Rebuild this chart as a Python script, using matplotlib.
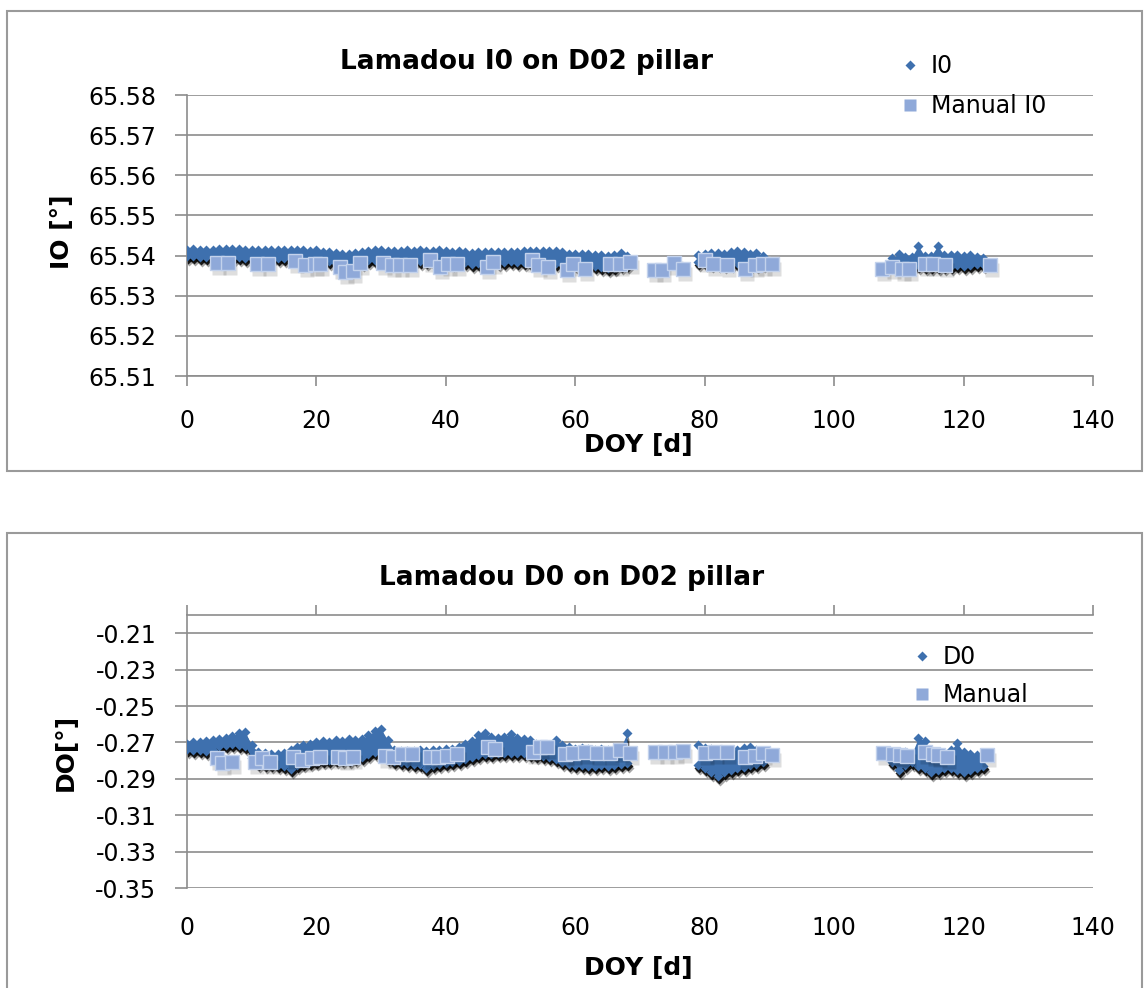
import matplotlib
matplotlib.use("Agg")
import matplotlib.pyplot as plt
from matplotlib import patches
from matplotlib import transforms
from matplotlib.lines import Line2D
import numpy as np

W, H = 1146, 988

# sampling days of the continuous Lamadou readings
days = list(range(0, 69)) + list(range(79, 90)) + list(range(109, 124))

# I0: daily upper / lower reading [deg]
i0_hi = [65.5414, 65.5416, 65.5413, 65.5415, 65.5414, 65.5416, 65.5417, 65.5416, 65.5417, 65.5415,
         65.5413, 65.5414, 65.5415, 65.5414, 65.5415, 65.5413, 65.5414, 65.5413, 65.5414, 65.5412,
         65.5413, 65.5410, 65.5408, 65.5406, 65.5404, 65.5405, 65.5407, 65.5409, 65.5412, 65.5413,
         65.5414, 65.5412, 65.5411, 65.5412, 65.5413, 65.5412, 65.5413, 65.5411, 65.5412, 65.5413,
         65.5412, 65.5410, 65.5411, 65.5408, 65.5406, 65.5408, 65.5409, 65.5410, 65.5408, 65.5409,
         65.5410, 65.5409, 65.5411, 65.5412, 65.5411, 65.5412, 65.5411, 65.5412, 65.5409, 65.5405,
         65.5404, 65.5403, 65.5404, 65.5402, 65.5401, 65.5400, 65.5401, 65.5406, 65.5400,
         65.5402, 65.5405, 65.5407, 65.5406, 65.5405, 65.5408, 65.5411, 65.5408, 65.5405, 65.5406, 65.5400,
         65.5394, 65.5404, 65.5396, 65.5397, 65.5424, 65.5399, 65.5400, 65.5424, 65.5401, 65.5402,
         65.5401, 65.5400, 65.5401, 65.5397, 65.5394]
i0_lo = [65.5398, 65.5398, 65.5397, 65.5396, 65.5396, 65.5397, 65.5396, 65.5395, 65.5396, 65.5395,
         65.5394, 65.5393, 65.5394, 65.5395, 65.5394, 65.5393, 65.5394, 65.5392, 65.5391, 65.5391,
         65.5390, 65.5389, 65.5386, 65.5382, 65.5378, 65.5376, 65.5380, 65.5384, 65.5388, 65.5390,
         65.5391, 65.5390, 65.5389, 65.5388, 65.5389, 65.5388, 65.5387, 65.5386, 65.5387, 65.5388,
         65.5387, 65.5385, 65.5386, 65.5383, 65.5378, 65.5382, 65.5385, 65.5386, 65.5385, 65.5384,
         65.5386, 65.5385, 65.5384, 65.5385, 65.5383, 65.5382, 65.5381, 65.5382, 65.5380, 65.5378,
         65.5378, 65.5376, 65.5377, 65.5375, 65.5372, 65.5370, 65.5372, 65.5376, 65.5378,
         65.5385, 65.5383, 65.5382, 65.5381, 65.5380, 65.5381, 65.5382, 65.5381, 65.5379, 65.5380, 65.5382,
         65.5378, 65.5377, 65.5376, 65.5375, 65.5376, 65.5374, 65.5375, 65.5374, 65.5375, 65.5374,
         65.5376, 65.5375, 65.5376, 65.5378, 65.5380]

# manual I0 measurements
man_i0_days = [4.6, 6.4, 10.8, 12.5, 16.7, 18.2, 19.8, 20.6, 23.6, 24.4,
               25.7, 26.7, 30.3, 31.7, 32.9, 34.5, 37.6, 39.1, 40.3, 41.7,
               46.4, 47.3, 53.3, 54.3, 55.8, 58.7, 59.7, 61.5, 65.4, 66.9,
               68.5, 72.1, 73.4, 75.2, 76.7, 80.1, 81.3, 83.4, 86.2, 87.8,
               89.0, 90.4, 107.4, 109.0, 110.5, 111.5, 114.1, 115.3, 117.2, 124.1]
man_i0 = [65.5381, 65.5381, 65.5379, 65.5379, 65.5386, 65.5377, 65.5379, 65.5379, 65.5372, 65.5359,
          65.5362, 65.5381, 65.5381, 65.5376, 65.5376, 65.5376, 65.5389, 65.5372, 65.5379, 65.5379,
          65.5372, 65.5384, 65.5389, 65.5376, 65.5372, 65.5364, 65.5379, 65.5367, 65.5379, 65.5379,
          65.5384, 65.5364, 65.5364, 65.5381, 65.5367, 65.5389, 65.5379, 65.5376, 65.5367, 65.5376,
          65.5379, 65.5379, 65.5367, 65.5372, 65.5367, 65.5367, 65.5379, 65.5379, 65.5376, 65.5376]

# D0: daily upper / lower reading [deg]
d0_hi = [-0.2709, -0.2698, -0.2698, -0.2693, -0.2687, -0.2682, -0.2676, -0.2665, -0.2649, -0.2644,
         -0.2715, -0.2753, -0.2759, -0.2764, -0.2764, -0.2759, -0.2742, -0.2726, -0.2715, -0.2709,
         -0.2698, -0.2693, -0.2698, -0.2687, -0.2693, -0.2682, -0.2687, -0.2682, -0.2660, -0.2638,
         -0.2627, -0.2687, -0.2742, -0.2748, -0.2748, -0.2748, -0.2742, -0.2748, -0.2742, -0.2742,
         -0.2737, -0.2737, -0.2726, -0.2709, -0.2693, -0.2660, -0.2649, -0.2671, -0.2676, -0.2671,
         -0.2655, -0.2676, -0.2682, -0.2687, -0.2709, -0.2720, -0.2720, -0.2687, -0.2715, -0.2726,
         -0.2737, -0.2731, -0.2737, -0.2742, -0.2737, -0.2742, -0.2737, -0.2731, -0.2649,
         -0.2715, -0.2731, -0.2737, -0.2742, -0.2748, -0.2753, -0.2742, -0.2731, -0.2726, -0.2742, -0.2753,
         -0.2753, -0.2759, -0.2753, -0.2764, -0.2676, -0.2693, -0.2742, -0.2753, -0.2759, -0.2742,
         -0.2704, -0.2753, -0.2764, -0.2770, -0.2775]
d0_lo = [-0.2737, -0.2742, -0.2742, -0.2748, -0.2742, -0.2720, -0.2715, -0.2709, -0.2715, -0.2720,
         -0.2786, -0.2814, -0.2819, -0.2819, -0.2825, -0.2830, -0.2846, -0.2825, -0.2814, -0.2808,
         -0.2803, -0.2797, -0.2797, -0.2792, -0.2792, -0.2792, -0.2786, -0.2781, -0.2764, -0.2753,
         -0.2748, -0.2786, -0.2803, -0.2808, -0.2814, -0.2819, -0.2819, -0.2841, -0.2825, -0.2819,
         -0.2814, -0.2808, -0.2803, -0.2792, -0.2781, -0.2770, -0.2764, -0.2764, -0.2759, -0.2759,
         -0.2759, -0.2759, -0.2759, -0.2764, -0.2770, -0.2775, -0.2781, -0.2792, -0.2808, -0.2819,
         -0.2825, -0.2825, -0.2830, -0.2830, -0.2825, -0.2830, -0.2825, -0.2819, -0.2814,
         -0.2825, -0.2841, -0.2863, -0.2885, -0.2863, -0.2852, -0.2841, -0.2836, -0.2825, -0.2819, -0.2808,
         -0.2808, -0.2852, -0.2825, -0.2808, -0.2830, -0.2841, -0.2863, -0.2852, -0.2841, -0.2841,
         -0.2852, -0.2863, -0.2852, -0.2841, -0.2830]

# manual D0 measurements
man_d0_days = [4.6, 5.4, 6.9, 10.5, 11.6, 12.8, 16.4, 17.7, 19.3, 20.6,
               23.3, 24.4, 25.7, 30.6, 31.8, 33.2, 34.8, 37.6, 38.8, 40.2,
               41.7, 46.5, 47.6, 53.5, 54.6, 55.6, 58.4, 59.7, 61.5, 63.4,
               65.4, 66.9, 68.5, 72.3, 73.9, 75.4, 76.7, 80.1, 81.6, 83.4,
               86.2, 87.8, 89.0, 90.4, 107.6, 109.1, 110.2, 111.3, 114.1, 115.2,
               116.1, 117.5, 123.6]
man_d0 = [-0.2786, -0.2814, -0.2808, -0.2808, -0.2786, -0.2808, -0.2781, -0.2797, -0.2786, -0.2781,
          -0.2781, -0.2786, -0.2781, -0.2775, -0.2781, -0.2764, -0.2764, -0.2781, -0.2781, -0.2775,
          -0.2764, -0.2726, -0.2737, -0.2753, -0.2726, -0.2726, -0.2764, -0.2759, -0.2753, -0.2759,
          -0.2759, -0.2742, -0.2759, -0.2753, -0.2753, -0.2753, -0.2748, -0.2759, -0.2753, -0.2753,
          -0.2781, -0.2775, -0.2759, -0.2770, -0.2759, -0.2764, -0.2770, -0.2775, -0.2753, -0.2764,
          -0.2770, -0.2781, -0.2770]

x_ticks = [0, 20, 40, 60, 80, 100, 120, 140]
i0_ticks = [65.51, 65.52, 65.53, 65.54, 65.55, 65.56, 65.57, 65.58]
d0_ticks = [-0.35, -0.33, -0.31, -0.29, -0.27, -0.25, -0.23, -0.21]

band_c = '#3E70AE'
sq_c = '#8FA9D9'
sq_edge = '#C3D2EC'
grid_c = '#8c8c8c'

fig = plt.figure(figsize=(W / 100, H / 100), dpi=100)


def fx(px):
    return px / W


def fy(py):
    return 1 - py / H


def draw_series(ax, x, hi, lo, mx, my):
    x = np.asarray(x)
    hi = np.asarray(hi)
    lo = np.asarray(lo)
    cuts = np.where(np.diff(x) > 1)[0] + 1
    segs = np.split(np.arange(len(x)), cuts)
    sh1 = transforms.offset_copy(ax.transData, fig=fig, x=1, y=-3, units='dots')
    sh2 = transforms.offset_copy(ax.transData, fig=fig, x=2, y=-5, units='dots')
    # shadows
    for tr, a in [(sh2, 0.35), (sh1, 0.85)]:
        for s in segs:
            ax.fill_between(x[s], lo[s], hi[s], color='black', lw=0, alpha=a,
                            transform=tr, zorder=2)
        ax.plot(x, lo, 'D', ms=5.5, color='black', alpha=a, mec='none',
                transform=tr, zorder=2)
    # blue band of readings
    for s in segs:
        ax.fill_between(x[s], lo[s], hi[s], color=band_c, lw=0, zorder=3)
    ax.plot(x, hi, 'D', ms=5.5, color=band_c, mec='none', zorder=3)
    ax.plot(x, lo, 'D', ms=5.5, color=band_c, mec='none', zorder=3)
    # manual measurements
    ax.plot(mx, my, 's', ms=10, color='black', alpha=0.13, mec='none',
            transform=sh2, zorder=4)
    ax.plot(mx, my, 's', ms=10, color=sq_c, mec=sq_edge, mew=1, zorder=5)


def style_axes(ax, yticks, fmt):
    ax.set_xlim(0, 140)
    ax.set_xticks(x_ticks)
    ax.set_yticks(yticks)
    ax.set_yticklabels([fmt % v for v in yticks])
    ax.yaxis.grid(True, color=grid_c, lw=1.2)
    ax.set_axisbelow(True)
    ax.spines['right'].set_visible(False)
    for s in ax.spines.values():
        s.set_color(grid_c)
        s.set_linewidth(1.2)
    ax.tick_params(axis='y', direction='out', length=9, width=1.2, color=grid_c,
                   pad=13, labelsize=17)
    ax.patch.set_alpha(0)


# ---- top panel: I0 ----
ax1 = fig.add_axes([fx(187), fy(376), fx(1093) - fx(187), fy(95) - fy(376)])
draw_series(ax1, days, i0_hi, i0_lo, man_i0_days, man_i0)
style_axes(ax1, i0_ticks, '%.2f')
ax1.set_ylim(65.51, 65.58)
ax1.spines['top'].set_visible(False)
ax1.tick_params(axis='x', direction='out', length=7, width=1.2, color=grid_c,
                pad=17, labelsize=17)

# ---- bottom panel: D0 ----
ax2 = fig.add_axes([fx(187), fy(888), fx(1093) - fx(187), fy(615) - fy(888)])
draw_series(ax2, days, d0_hi, d0_lo, man_d0_days, man_d0)
style_axes(ax2, d0_ticks, '%.2f')
ax2.set_ylim(-0.35, -0.20)
ax2.spines['bottom'].set_visible(False)
ax2.tick_params(axis='x', top=True, bottom=False, labeltop=False, labelbottom=True,
                direction='out', length=7, width=1.2, color=grid_c, pad=13, labelsize=17)

# legends
def legend(ax, labels, anchor, spacing):
    h = [Line2D([], [], ls='none', marker='D', ms=5, color=band_c, mec='none'),
         Line2D([], [], ls='none', marker='s', ms=9, color=sq_c, mec='none')]
    ax.legend(h, labels, loc='upper left', bbox_to_anchor=anchor, frameon=False,
              fontsize=17, handlelength=1.0, handletextpad=0.4, borderpad=0,
              borderaxespad=0, labelspacing=spacing)


legend(ax1, ['I0', 'Manual I0'], ((898 - 187) / 906, (376 - 54) / 281), 0.68)
legend(ax2, ['D0', 'Manual'], ((910 - 187) / 906, (888 - 645) / 273), 0.6)

# titles and axis labels
fig.text(fx(527), fy(62), 'Lamadou I0 on D02 pillar', ha='center', va='center',
         fontsize=19, weight='bold')
fig.text(fx(572), fy(578), 'Lamadou D0 on D02 pillar', ha='center', va='center',
         fontsize=19, weight='bold')
fig.text(fx(638), fy(445), 'DOY [d]', ha='center', va='center', fontsize=18, weight='bold')
fig.text(fx(638), fy(968), 'DOY [d]', ha='center', va='center', fontsize=18, weight='bold')
fig.text(fx(62), fy(232), 'IO [°]', ha='center', va='center', fontsize=18,
         weight='bold', rotation=90)
fig.text(fx(66), fy(752), 'DO[°]', ha='center', va='center', fontsize=18,
         weight='bold', rotation=90)

# chart area borders
fig.add_artist(patches.Rectangle((fx(7), fy(471)), fx(1142) - fx(7), fy(11) - fy(471),
                                 transform=fig.transFigure, fill=False,
                                 ec='#9a9a9a', lw=1.5))
fig.add_artist(patches.Rectangle((fx(7), fy(1000)), fx(1142) - fx(7), fy(533) - fy(1000),
                                 transform=fig.transFigure, fill=False,
                                 ec='#9a9a9a', lw=1.5, clip_on=False))

fig.savefig('out.png', dpi=100)
